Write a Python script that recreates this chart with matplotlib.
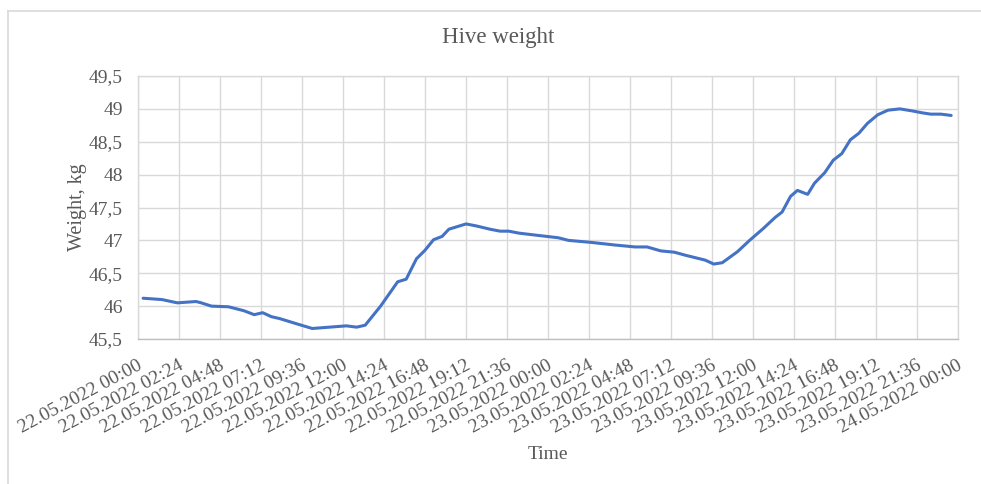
import numpy as np
import pandas as pd
import matplotlib
matplotlib.use("Agg")
import matplotlib.pyplot as plt
import matplotlib.dates as mdates
import matplotlib.transforms as mtransforms
from matplotlib.ticker import FuncFormatter, MultipleLocator
from matplotlib.lines import Line2D

plt.rcParams['font.family'] = ['Liberation Serif', 'DejaVu Serif']

start = pd.Timestamp('2022-05-22 00:00')
end = pd.Timestamp('2022-05-24 00:00')

# hours after 22.05.2022 00:00
hours = [0.3, 1.4, 2.3, 3.4, 3.7, 4.3, 5.3, 6.2, 6.8, 7.3, 7.8, 8.3, 9.3, 10.2, 11.2,
         12.2, 12.8, 13.3, 14.2, 15.2, 15.7, 16.3, 16.8, 17.3, 17.8, 18.2, 19.2, 19.8,
         20.6, 21.2, 21.7, 22.3, 23.6, 24.6, 25.2, 26.5, 27.9, 29.1, 29.8, 30.6, 31.4,
         32.1, 33.2, 33.7, 34.2, 35.1, 35.8, 36.6, 37.3, 37.7, 38.2, 38.6, 39.2, 39.6,
         40.2, 40.7, 41.2, 41.7, 42.2, 42.7, 43.3, 43.9, 44.6, 45.3, 45.9, 46.4, 47.0, 47.6]
weight = [46.12, 46.10, 46.05, 46.07, 46.05, 46.00, 45.99, 45.93, 45.87, 45.90, 45.84,
          45.81, 45.73, 45.66, 45.68, 45.70, 45.68, 45.71, 46.00, 46.37, 46.41, 46.72,
          46.85, 47.01, 47.06, 47.17, 47.25, 47.22, 47.17, 47.14, 47.14, 47.11, 47.07,
          47.04, 47.00, 46.97, 46.93, 46.90, 46.90, 46.84, 46.82, 46.77, 46.70, 46.64,
          46.66, 46.83, 47.00, 47.18, 47.35, 47.43, 47.67, 47.76, 47.70, 47.87, 48.03,
          48.22, 48.32, 48.53, 48.63, 48.78, 48.91, 48.98, 49.00, 48.97, 48.94, 48.92,
          48.92, 48.90]

times = start + pd.to_timedelta(hours, unit='h')
ticks = pd.date_range(start, end, freq='144min')

gray = '#595959'

fig = plt.figure(figsize=(9.81, 4.84), dpi=100)
ax = fig.add_axes([138/981, 1 - 339/484, 820/981, 263/484])

ax.plot(times, weight, color='#4472C4', lw=2.2, solid_capstyle='round', zorder=3)

ax.set_xlim(start, end)
ax.set_ylim(45.5, 49.5)
ax.yaxis.set_major_locator(MultipleLocator(0.5))
ax.yaxis.set_major_formatter(FuncFormatter(lambda v, p: f'{v:g}'.replace('.', ',')))
ax.set_xticks(ticks)
ax.xaxis.set_major_formatter(mdates.DateFormatter('%d.%m.%Y %H:%M'))

ax.grid(True, color='#d9d9d9', lw=1.0)
ax.set_axisbelow(True)
for s in ax.spines.values():
    s.set_color('#d9d9d9')
    s.set_linewidth(1.0)
ax.spines['bottom'].set_color('#bfbfbf')

ax.tick_params(axis='both', length=0, labelsize=14, labelcolor=gray)
ax.tick_params(axis='y', pad=11)
ax.tick_params(axis='x', pad=13)
shift = mtransforms.ScaledTranslation(-1/100, 0, fig.dpi_scale_trans)
for lab in ax.get_xticklabels():
    lab.set_rotation(28)
    lab.set_ha('right')
    lab.set_rotation_mode('anchor')
    lab.set_transform(lab.get_transform() + shift)

ax.set_xlabel('Time', fontsize=14, color=gray, labelpad=7)
ax.set_ylabel('Weight, kg', fontsize=14.5, color=gray, labelpad=1)
fig.text(0.508, 1 - 38/484, 'Hive weight', ha='center', va='center', fontsize=16.5, color=gray)

# chart frame
fig.add_artist(Line2D([8/981, 8/981], [0, 1 - 11/484], color='#d9d9d9', lw=1.2))
fig.add_artist(Line2D([8/981, 1], [1 - 11/484, 1 - 11/484], color='#d9d9d9', lw=1.2))

fig.savefig('out.png', dpi=100)
